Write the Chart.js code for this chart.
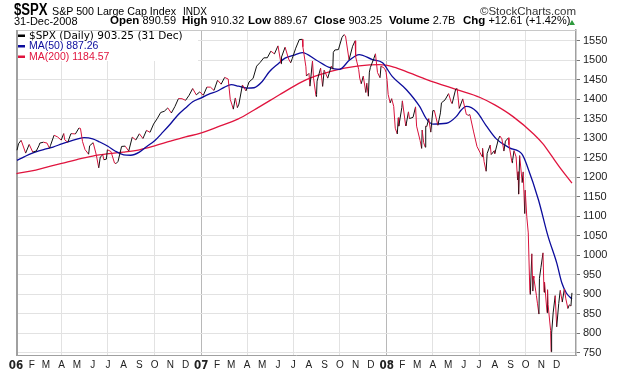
<!DOCTYPE html>
<html>
<head>
<meta charset="utf-8">
<script src="https://cdn.jsdelivr.net/npm/chart.js@4.4.1/dist/chart.umd.min.js"></script>
<style>
  html, body { margin: 0; padding: 0; background: #fff; }
  #wrap { position: relative; width: 620px; height: 376px; overflow: hidden; font-family: "Liberation Sans", Arial, sans-serif; color: #000; }
  #wrap canvas { position: absolute; left: 0; top: 0; }
  .t { position: absolute; white-space: nowrap; line-height: 1; font-size: 11px; }
  .b { font-weight: bold; font-size: 11.5px; }
  .up { position: absolute; left: 569px; top: 20px; width: 0; height: 0;
        border-left: 3.5px solid transparent; border-right: 3.5px solid transparent; border-bottom: 5px solid #2e9a3c; }
</style>
</head>
<body>
<div id="wrap">
  <canvas id="spxChart" width="620" height="376"></canvas>
  <div class="t" style="left:14px;top:2px;font-size:16px;font-weight:bold;transform:scaleX(0.82);transform-origin:0 0;">$SPX</div>
  <div class="t" style="left:52px;top:6px;font-size:10.7px;">S&amp;P 500 Large Cap Index</div>
  <div class="t" style="left:183px;top:7px;font-size:10px;">INDX</div>
  <div class="t" style="right:44px;top:6px;font-size:11.5px;color:#333;">©StockCharts.com</div>
  <div class="t" style="left:14px;top:16px;">31-Dec-2008</div>
  <div class="t" style="left:110px;top:15px;"><span class="b">Open</span> 890.59</div>
  <div class="t" style="left:182px;top:15px;"><span class="b">High</span> 910.32</div>
  <div class="t" style="left:248px;top:15px;"><span class="b">Low</span> 889.67</div>
  <div class="t" style="left:314px;top:15px;"><span class="b">Close</span> 903.25</div>
  <div class="t" style="left:389px;top:15px;"><span class="b">Volume</span> 2.7B</div>
  <div class="t" style="left:463px;top:15px;"><span class="b">Chg</span> +12.61 (+1.42%)</div>
  <div class="up"></div>
</div>
<script>
const priceDates = [
  '2006-01-03','2006-01-06','2006-01-11','2006-01-13','2006-01-20','2006-01-27','2006-02-03','2006-02-10','2006-02-15','2006-02-17',
  '2006-02-24','2006-03-03','2006-03-08','2006-03-10','2006-03-17','2006-03-24','2006-03-31','2006-04-05','2006-04-07','2006-04-13',
  '2006-04-19','2006-04-21','2006-04-28','2006-05-05','2006-05-08','2006-05-12','2006-05-17','2006-05-19','2006-05-24','2006-05-26',
  '2006-06-02','2006-06-08','2006-06-13','2006-06-16','2006-06-21','2006-06-23','2006-06-28','2006-06-30','2006-07-07','2006-07-14',
  '2006-07-17','2006-07-21','2006-07-28','2006-08-04','2006-08-11','2006-08-18','2006-08-25','2006-09-01','2006-09-08','2006-09-15',
  '2006-09-22','2006-09-29','2006-10-06','2006-10-13','2006-10-20','2006-10-27','2006-11-03','2006-11-10','2006-11-17','2006-11-24',
  '2006-12-01','2006-12-08','2006-12-15','2006-12-22','2006-12-29',
  '2007-01-05','2007-01-12','2007-01-19','2007-01-26','2007-02-02','2007-02-09','2007-02-16','2007-02-23','2007-02-27','2007-03-02',
  '2007-03-05','2007-03-09','2007-03-13','2007-03-16','2007-03-23','2007-03-30','2007-04-05','2007-04-13','2007-04-20','2007-04-27',
  '2007-05-04','2007-05-11','2007-05-18','2007-05-25','2007-06-01','2007-06-07','2007-06-08','2007-06-15','2007-06-22','2007-06-26',
  '2007-06-29','2007-07-06','2007-07-13','2007-07-19','2007-07-20','2007-07-26','2007-07-27','2007-08-01','2007-08-03','2007-08-08',
  '2007-08-10','2007-08-15','2007-08-16','2007-08-17','2007-08-24','2007-08-28','2007-08-31','2007-09-07','2007-09-14','2007-09-17',
  '2007-09-18','2007-09-21','2007-09-28','2007-10-05','2007-10-09','2007-10-12','2007-10-19','2007-10-26','2007-10-31','2007-11-01',
  '2007-11-07','2007-11-09','2007-11-12','2007-11-16','2007-11-21','2007-11-23','2007-11-26','2007-11-28','2007-11-30','2007-12-07',
  '2007-12-10','2007-12-14','2007-12-19','2007-12-21','2007-12-28','2007-12-31',
  '2008-01-02','2008-01-04','2008-01-08','2008-01-11','2008-01-15','2008-01-18','2008-01-22','2008-01-24','2008-01-25','2008-01-31',
  '2008-02-01','2008-02-07','2008-02-08','2008-02-13','2008-02-15','2008-02-22','2008-02-27','2008-02-29','2008-03-07','2008-03-10',
  '2008-03-11','2008-03-14','2008-03-17','2008-03-18','2008-03-20','2008-03-24','2008-03-28','2008-04-01','2008-04-04','2008-04-11',
  '2008-04-16','2008-04-18','2008-04-25','2008-05-02','2008-05-07','2008-05-09','2008-05-16','2008-05-19','2008-05-23','2008-05-30',
  '2008-06-06','2008-06-10','2008-06-13','2008-06-20','2008-06-27','2008-07-03','2008-07-07','2008-07-08','2008-07-11','2008-07-15',
  '2008-07-17','2008-07-23','2008-07-25','2008-07-31','2008-08-01','2008-08-08','2008-08-11','2008-08-15','2008-08-19','2008-08-22',
  '2008-08-28','2008-08-29','2008-09-04','2008-09-05','2008-09-08','2008-09-12','2008-09-15','2008-09-16','2008-09-17','2008-09-19',
  '2008-09-24','2008-09-26','2008-09-29','2008-09-30','2008-10-03','2008-10-06','2008-10-09','2008-10-10','2008-10-13','2008-10-15',
  '2008-10-16','2008-10-17','2008-10-22','2008-10-24','2008-10-27','2008-10-28','2008-10-31','2008-11-04','2008-11-06','2008-11-07',
  '2008-11-12','2008-11-13','2008-11-14','2008-11-19','2008-11-20','2008-11-21','2008-11-24','2008-11-28','2008-12-01','2008-12-05',
  '2008-12-08','2008-12-12','2008-12-16','2008-12-19','2008-12-23','2008-12-26','2008-12-29','2008-12-31'
];
const priceCloses = [
  1268.8,1285.5,1294.2,1287.6,1261.5,1283.7,1264.0,1267.0,1280.0,1287.2,
  1289.4,1287.2,1274.0,1281.4,1307.3,1302.9,1294.8,1311.6,1295.5,1289.1,
  1311.0,1311.3,1310.6,1325.8,1324.7,1291.2,1270.3,1267.0,1258.6,1280.2,
  1288.2,1257.9,1223.7,1251.5,1257.0,1244.5,1246.0,1270.2,1265.5,1236.2,
  1234.5,1240.3,1278.6,1279.4,1266.7,1302.3,1295.1,1311.0,1298.9,1319.7,
  1314.8,1335.9,1349.6,1365.6,1368.6,1377.3,1364.3,1380.9,1401.2,1400.9,
  1396.7,1409.8,1427.1,1410.8,1418.3,
  1409.7,1430.7,1430.5,1422.2,1448.4,1438.1,1455.5,1451.2,1399.0,1387.2,
  1374.1,1402.8,1378.0,1386.9,1436.1,1420.9,1443.8,1452.9,1484.4,1494.1,
  1505.6,1505.9,1522.8,1515.7,1536.3,1490.7,1507.7,1532.9,1502.6,1492.9,
  1503.4,1530.4,1552.5,1553.1,1534.1,1482.7,1459.0,1465.8,1433.1,1497.5,
  1453.6,1406.7,1411.3,1445.9,1479.4,1432.4,1474.0,1453.6,1484.3,1476.6,
  1519.8,1525.8,1526.8,1557.6,1565.2,1561.8,1500.6,1535.3,1549.4,1508.4,
  1475.6,1453.7,1439.2,1458.7,1416.8,1440.7,1407.2,1469.0,1481.1,1504.7,
  1516.0,1468.0,1454.7,1484.5,1478.5,1468.4,
  1447.2,1411.6,1390.2,1401.0,1380.9,1325.2,1310.5,1352.1,1330.6,1378.6,
  1395.4,1336.9,1331.3,1367.2,1350.0,1353.1,1380.0,1330.6,1293.4,1273.4,
  1320.7,1288.1,1276.6,1330.7,1329.5,1349.9,1315.2,1370.2,1370.4,1332.8,
  1364.7,1390.3,1397.8,1413.9,1392.6,1388.3,1425.4,1426.6,1375.9,1400.4,
  1360.7,1358.4,1360.0,1317.9,1278.4,1262.9,1252.3,1273.7,1239.5,1214.9,
  1260.3,1282.2,1257.8,1267.4,1260.3,1296.3,1305.3,1298.2,1266.7,1292.2,
  1300.7,1282.8,1236.8,1242.3,1267.8,1251.7,1192.7,1213.6,1156.4,1255.1,
  1185.9,1213.3,1106.4,1166.4,1099.2,1056.9,909.9,899.2,1003.4,907.8,
  946.4,940.6,896.8,876.8,848.9,940.5,968.8,1005.8,904.9,931.0,
  852.3,911.3,873.3,806.6,752.4,800.0,851.8,896.2,816.2,876.1,
  909.7,879.7,913.2,887.9,863.2,872.8,869.4,903.3
];

const ma50Dates = [
  '2006-01-03','2006-01-17','2006-02-01','2006-02-15','2006-03-01','2006-03-15','2006-04-01','2006-04-15','2006-05-01','2006-05-15',
  '2006-06-01','2006-06-15','2006-07-01','2006-07-15','2006-08-01','2006-08-15','2006-09-01','2006-09-15','2006-10-01','2006-10-15',
  '2006-11-01','2006-11-15','2006-12-01','2006-12-15','2007-01-01','2007-01-15','2007-02-01','2007-02-15','2007-03-01','2007-03-15',
  '2007-04-01','2007-04-15','2007-05-01','2007-05-15','2007-06-01','2007-06-15','2007-07-01','2007-07-19','2007-08-15','2007-09-10',
  '2007-09-30','2007-10-20','2007-11-08','2007-12-04','2007-12-24','2008-01-12','2008-02-09','2008-03-06','2008-03-19','2008-04-01',
  '2008-04-28','2008-05-17','2008-05-27','2008-06-06','2008-06-26','2008-07-15','2008-08-04','2008-08-30','2008-09-24','2008-10-04',
  '2008-10-26','2008-11-14','2008-12-01','2008-12-11','2008-12-20','2008-12-31'
];
const ma50Values = [
  1243,1252,1261,1267,1272,1277,1285,1291,1297,1301,
  1298,1290,1279,1267,1257,1256,1264,1278,1293,1312,
  1336,1358,1377,1393,1403,1412,1420,1430,1437,1433,
  1428,1429,1445,1470,1490,1505,1512,1519,1500,1481,
  1476,1500,1514,1501,1493,1458,1424,1381,1350,1336,
  1338,1355,1372,1381,1368,1332,1298,1275,1258,1228,
  1142,1048,980,929,903,887.26
];

const ma200Dates = [
  '2006-01-02','2006-02-01','2006-03-01','2006-04-01','2006-05-01','2006-06-01','2006-07-03','2006-08-01','2006-09-01','2006-10-01',
  '2006-11-01','2006-12-01','2006-12-29','2007-02-01','2007-03-15','2007-04-15','2007-06-04','2007-07-01','2007-07-27','2007-09-11',
  '2007-10-10','2007-11-08','2007-12-18','2008-01-15','2008-02-15','2008-03-20','2008-05-18','2008-07-03','2008-08-01','2008-09-06',
  '2008-10-17','2008-11-04','2008-11-20','2008-12-07','2008-12-31'
];
const ma200Values = [
  1209,1216,1225,1235,1245,1254,1260,1264,1270,1280,
  1292,1303,1312,1328,1349,1372,1411,1432,1450,1470,
  1479,1485,1488,1482,1467,1450,1424,1404,1385,1355,
  1310,1285,1256,1225,1184.57
];

const monthLabels = [
  '06','F','M','A','M','J','J','A','S','O','N','D',
  '07','F','M','A','M','J','J','A','S','O','N','D',
  '08','F','M','A','M','J','J','A','S','O','N','D'
];
const yTickValues = [750,800,850,900,950,1000,1050,1100,1150,1200,1250,1300,1350,1400,1450,1500,1550];

const seriesLabels = ['$SPX (Daily) 903.25 (31 Dec)', 'MA(50) 887.26', 'MA(200) 1184.57'];

// day number counted from 1 Jan 2006
const day0 = Date.UTC(2006, 0, 1);
function dayIndex(s) {
  return (Date.UTC(+s.slice(0, 4), +s.slice(5, 7) - 1, +s.slice(8, 10)) - day0) / 86400000;
}
function pts(dates, vals) {
  return dates.map((d, i) => ({ x: dayIndex(d), y: vals[i] }));
}

const monthStarts = [];
for (let yr = 2006; yr <= 2008; yr++) {
  for (let m = 0; m < 12; m++) monthStarts.push((Date.UTC(yr, m, 1) - day0) / 86400000);
}

const upColor = '#111111';
const downColor = '#d8123c';
const ma50Color = '#0c0c9c';
const ma200Color = '#e0143e';

const chartFrame = {
  id: 'chartFrame',
  beforeDatasetsDraw(chart) {
    const a = chart.chartArea, c = chart.ctx;
    c.save();
    c.strokeStyle = '#c8c8c8';
    c.lineWidth = 1;
    c.beginPath();
    c.moveTo(a.left, a.top + 0.5);
    c.lineTo(a.right, a.top + 0.5);
    c.stroke();
    c.strokeStyle = '#a0a0a0';
    c.lineWidth = 2;
    c.beginPath();
    c.moveTo(a.left + 1, a.top);
    c.lineTo(a.left + 1, a.bottom);
    c.stroke();
    c.restore();
  },
  afterDatasetsDraw(chart) {
    const a = chart.chartArea, c = chart.ctx;
    c.save();
    c.fillStyle = '#ffffff';
    c.fillRect(a.left + 2, a.top + 1, 180, 30);
    const rows = [
      { y: 35.5, color: '#000000', font: '10.5px "DejaVu Sans", sans-serif' },
      { y: 46, color: ma50Color, font: '10.5px "Liberation Sans", sans-serif' },
      { y: 56.5, color: ma200Color, font: '10.5px "Liberation Sans", sans-serif' }
    ];
    c.textBaseline = 'middle';
    chart.data.datasets.forEach((ds, i) => {
      const r = rows[i];
      c.fillStyle = r.color;
      c.fillRect(18, r.y - 1, 7, 2.5);
      c.font = r.font;
      c.fillText(ds.label, 29, r.y + 0.5);
    });
    c.restore();
  }
};

new Chart(document.getElementById('spxChart').getContext('2d'), {
  type: 'line',
  data: {
    datasets: [
      {
        label: seriesLabels[0],
        data: pts(priceDates, priceCloses),
        borderWidth: 1,
        pointRadius: 0,
        borderColor: downColor,
        segment: {
          borderColor: ctx => ctx.p1.parsed.y >= ctx.p0.parsed.y ? upColor : downColor
        },
        order: 0
      },
      {
        label: seriesLabels[1],
        data: pts(ma50Dates, ma50Values),
        borderColor: ma50Color,
        borderWidth: 1.3,
        pointRadius: 0,
        cubicInterpolationMode: 'monotone',
        order: 1
      },
      {
        label: seriesLabels[2],
        data: pts(ma200Dates, ma200Values),
        borderColor: ma200Color,
        borderWidth: 1.3,
        pointRadius: 0,
        cubicInterpolationMode: 'monotone',
        order: 2
      }
    ]
  },
  options: {
    responsive: false,
    animation: false,
    devicePixelRatio: 1,
    events: [],
    layout: { padding: { left: 16, top: 30, right: 0, bottom: 0 } },
    plugins: {
      legend: { display: false },
      tooltip: { enabled: false },
      title: { display: false }
    },
    scales: {
      x: {
        type: 'linear',
        position: 'bottom',
        min: 0,
        max: 1103,
        afterBuildTicks: s => { s.ticks = monthStarts.map(v => ({ value: v })); },
        afterFit: s => { s.height = 21; },
        border: { display: true, color: '#a0a0a0', width: 1 },
        grid: {
          drawTicks: false,
          color: ctx => {
            const i = monthStarts.indexOf(ctx.tick && ctx.tick.value);
            if (i === 0) return 'rgba(0,0,0,0)';
            if (i % 12 === 0) return '#b8b8b8';
            if (i % 3 === 0) return '#e2e2e2';
            return 'rgba(0,0,0,0)';
          }
        },
        ticks: {
          autoSkip: false,
          maxRotation: 0,
          minRotation: 0,
          padding: 4,
          color: '#222',
          font: ctx => (ctx.index % 12 === 0)
            ? { family: "'Liberation Sans Narrow','DejaVu Sans Condensed',sans-serif", size: 11.5, weight: 'bold' }
            : { family: "'Liberation Sans',Arial,sans-serif", size: 10 },
          callback: (v, i) => monthLabels[i]
        }
      },
      y: {
        type: 'linear',
        position: 'right',
        min: 744,
        max: 1577,
        afterBuildTicks: s => { s.ticks = yTickValues.map(v => ({ value: v })); },
        afterFit: s => { s.width = 44; },
        border: { display: true, color: '#a0a0a0', width: 1.5 },
        grid: {
          color: '#e2e2e2',
          drawTicks: true,
          tickLength: 4,
          tickColor: '#777'
        },
        ticks: {
          autoSkip: false,
          padding: 3,
          color: '#222',
          font: { family: "'Liberation Sans',Arial,sans-serif", size: 11 },
          callback: v => v
        }
      }
    }
  },
  plugins: [chartFrame]
});
</script>
</body>
</html>
